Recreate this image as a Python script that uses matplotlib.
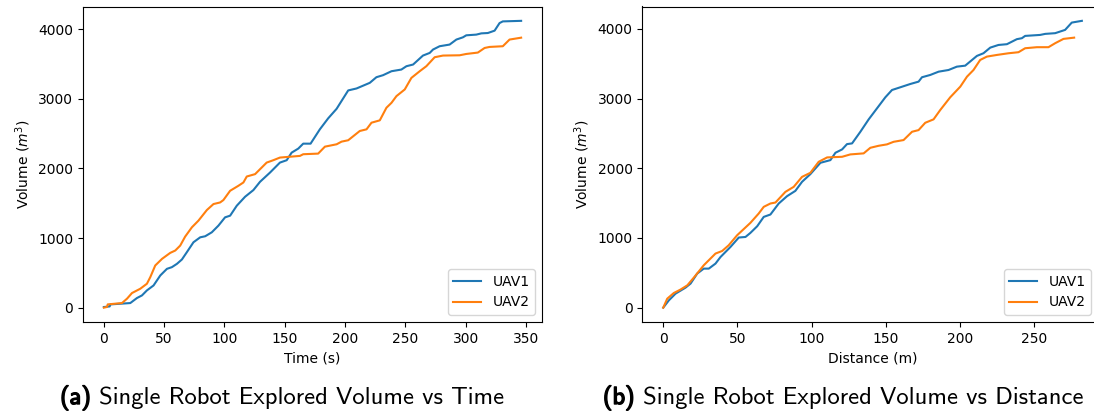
import matplotlib
matplotlib.use("Agg")
import matplotlib.pyplot as plt
import matplotlib.patheffects as pe

# ---- explored volume vs time (single robot runs) ----
time_uav1 = [0, 4.8, 5.5, 21.9, 27.4, 31.6, 35.7, 41.2, 46.8, 52.3, 56.4, 60.6, 64.7, 68.8,
             74.3, 79.9, 84.0, 89.5, 95.0, 100.5, 104.7, 110.2, 117.1, 124.0, 129.5, 137.8,
             146.0, 151.6, 155.7, 161.2, 165.3, 171.4, 179.1, 186.0, 193.0, 202.6, 209.5,
             220.5, 226.0, 231.5, 238.5, 246.7, 250.9, 256.4, 264.6, 270.2, 272.9, 278.4,
             286.7, 292.3, 297.7, 300.5, 308.8, 313.0, 318.4, 324.0, 328.1, 330.8, 346.0]
vol_t_uav1 = [9, 18, 47, 66, 138, 176, 248, 319, 463, 558, 582, 630, 692, 797,
              940, 1011, 1026, 1083, 1179, 1298, 1322, 1465, 1594, 1690, 1809, 1942,
              2085, 2119, 2228, 2286, 2357, 2357, 2563, 2721, 2858, 3122, 3150,
              3231, 3312, 3341, 3398, 3422, 3470, 3494, 3623, 3661, 3709, 3757,
              3781, 3853, 3885, 3914, 3924, 3942, 3947, 3981, 4090, 4114, 4122]

time_uav2 = [0, 2.6, 3.2, 15.0, 19.2, 23.3, 30.2, 35.7, 38.5, 42.6, 48.2, 55.0, 59.2, 63.3,
             67.4, 73.0, 78.4, 85.4, 90.9, 96.4, 99.1, 104.7, 111.5, 115.7, 118.5, 125.4,
             135.0, 140.5, 146.0, 155.7, 162.6, 165.3, 177.7, 183.3, 193.0, 197.1, 202.6,
             212.2, 217.8, 221.9, 228.8, 234.3, 238.5, 242.6, 249.5, 255.0, 261.9, 267.4,
             274.3, 281.2, 295.0, 300.5, 310.1, 315.7, 319.8, 330.8, 336.4, 346.0]
vol_t_uav2 = [0, 10, 47, 66, 129, 210, 272, 344, 439, 606, 701, 787, 821, 892,
              1021, 1155, 1250, 1403, 1489, 1512, 1546, 1680, 1751, 1799, 1885, 1919,
              2085, 2119, 2157, 2171, 2181, 2205, 2214, 2314, 2348, 2386, 2406,
              2539, 2563, 2658, 2692, 2873, 2944, 3040, 3136, 3302, 3398, 3470,
              3599, 3623, 3627, 3646, 3666, 3732, 3747, 3757, 3853, 3880]

# ---- explored volume vs travelled distance ----
dist_uav1 = [0, 3.8, 8.3, 15.0, 18.4, 22.9, 27.3, 30.7, 35.2, 38.6, 45.3, 50.9, 55.4, 58.7,
             63.3, 67.7, 72.2, 77.8, 83.4, 89.0, 93.5, 99.1, 105.9, 112.6, 116.0, 120.5,
             123.8, 127.2, 132.8, 138.4, 144.0, 149.6, 154.1, 159.7, 166.4, 172.0, 174.3,
             179.9, 185.5, 192.2, 197.8, 203.4, 211.3, 215.7, 220.3, 225.8, 231.5, 238.2,
             241.6, 243.8, 253.9, 257.3, 264.0, 270.7, 275.2, 282.0]
vol_d_uav1 = [0, 105, 201, 287, 345, 489, 560, 560, 632, 727, 871, 1006, 1014, 1072,
              1168, 1302, 1336, 1494, 1599, 1675, 1805, 1915, 2078, 2116, 2222, 2270,
              2346, 2356, 2523, 2701, 2859, 3017, 3122, 3161, 3208, 3242, 3305,
              3338, 3385, 3409, 3457, 3471, 3611, 3649, 3730, 3768, 3779, 3851,
              3865, 3898, 3912, 3927, 3937, 3984, 4089, 4114]

dist_uav2 = [0, 2.7, 7.1, 11.6, 16.2, 20.6, 27.3, 35.2, 39.7, 44.1, 49.8, 58.7, 64.3, 67.7,
             72.2, 75.6, 82.3, 87.9, 93.5, 99.1, 104.7, 110.4, 120.5, 126.0, 135.0, 139.5,
             145.1, 150.7, 155.2, 161.9, 167.6, 172.0, 176.5, 182.1, 186.6, 193.3, 200.1,
             204.6, 209.0, 213.5, 218.0, 224.8, 232.6, 239.3, 243.8, 251.7, 259.5, 264.0,
             269.6, 276.8]
vol_d_uav2 = [0, 129, 210, 259, 320, 431, 608, 776, 813, 895, 1039, 1216, 1350, 1446,
              1494, 1508, 1661, 1733, 1876, 1934, 2092, 2155, 2164, 2198, 2213, 2293,
              2322, 2342, 2379, 2404, 2523, 2547, 2652, 2701, 2835, 3017, 3170,
              3313, 3409, 3553, 3601, 3625, 3649, 3664, 3721, 3736, 3736, 3793,
              3855, 3873]

labels = ["UAV1", "UAV2"]
W, H = 1094, 412

fig = plt.figure(figsize=(W / 100, H / 100), dpi=100)

bottom = 1 - 322 / H
height = (322 - 6.5) / H

ax1 = fig.add_axes([83 / W, bottom, (542 - 83) / W, height])
ax1.plot(time_uav1, vol_t_uav1, label=labels[0])
ax1.plot(time_uav2, vol_t_uav2, label=labels[1])
ax1.set_xlabel("Time (s)")
ax1.set_ylabel("Volume ($m^3$)")
ax1.set_xticks([0, 50, 100, 150, 200, 250, 300, 350])
ax1.set_yticks([0, 1000, 2000, 3000, 4000])
ax1.legend(loc="lower right")

ax2 = fig.add_axes([642.3 / W, bottom, 460.5 / W, height])
ax2.plot(dist_uav1, vol_d_uav1, label=labels[0])
ax2.plot(dist_uav2, vol_d_uav2, label=labels[1])
ax2.set_xlabel("Distance (m)")
ax2.set_ylabel("Volume ($m^3$)")
ax2.set_xticks([0, 50, 100, 150, 200, 250])
ax2.set_yticks([0, 1000, 2000, 3000, 4000])
ax2.legend(loc="lower right", bbox_to_anchor=((1098 - 642.3) / 460.5, 0))

# sub-figure captions: bold tag followed by plain text, centred as a unit
renderer = fig.canvas.get_renderer()
cap_size = 17.7
bold = [pe.withStroke(linewidth=1.0, foreground="black")]


def caption(cx, base_y, tag, text):
    t1 = fig.text(0, base_y / H, tag, fontsize=cap_size, family="cmss10",
                  va="baseline", ha="left", path_effects=bold)
    t2 = fig.text(0, base_y / H, " " + text, fontsize=cap_size, family="cmss10",
                  va="baseline", ha="left")
    w1 = t1.get_window_extent(renderer).width
    w2 = t2.get_window_extent(renderer).width
    x0 = cx - (w1 + w2) / 2
    t1.set_x(x0 / W)
    t2.set_x((x0 + w1) / W)


caption(282, H - 404, "(a)", "Single Robot Explored Volume vs Time")
caption(843, H - 404, "(b)", "Single Robot Explored Volume vs Distance")

fig.savefig("out.png", dpi=100)
